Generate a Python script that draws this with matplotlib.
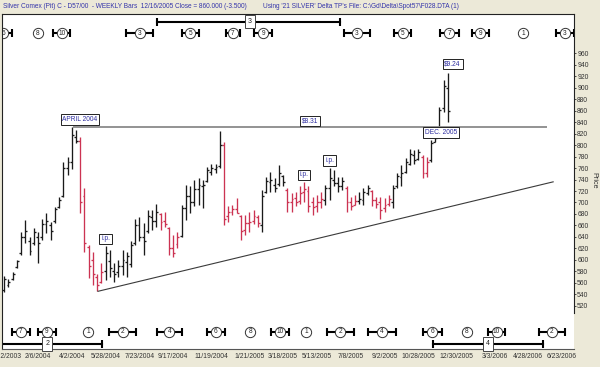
import matplotlib
matplotlib.use("Agg")
import matplotlib.pyplot as plt
import matplotlib.transforms as mtransforms
import numpy as np
import pandas as pd

plt.rcParams['font.family'] = ['Liberation Sans', 'DejaVu Sans']

# ---------------- data (weekly bars, Fridays, from 12/12/2003) ----------------
first_bar = "2003-12-12"
anchor = pd.Timestamp("2004-02-06")   # week 0 of the x scale

highs = [572, 566, 579, 600, 649, 669, 640, 655, 649, 672, 681, 666, 692, 710, 771, 780,
         831, 826, 815, 725, 626, 614, 576, 594, 624, 617, 594, 600, 617, 614, 632, 672,
         675, 664, 687, 687, 698, 681, 684, 658, 643, 649, 696, 730, 728, 739, 742, 739,
         762, 768, 768, 824, 806, 693, 696, 707, 678, 678, 684, 687, 678, 722, 745, 754,
         742, 765, 748, 725, 716, 719, 728, 736, 728, 710, 713, 719, 731, 761, 757, 745,
         745, 728, 710, 713, 719, 725, 731, 722, 710, 710, 707, 713, 731, 751, 765, 777,
         794, 792, 794, 783, 780, 809, 815, 867, 914, 926]
lows = [544, 552, 565, 586, 608, 629, 608, 626, 594, 634, 646, 634, 664, 690, 710, 748,
        758, 803, 681, 614, 568, 556, 545, 559, 565, 570, 562, 570, 573, 570, 588, 626,
        632, 608, 646, 652, 658, 652, 658, 608, 605, 620, 640, 669, 681, 693, 696, 690,
        736, 748, 751, 760, 661, 666, 678, 681, 634, 643, 649, 663, 658, 649, 716, 719,
        719, 728, 728, 684, 684, 693, 698, 701, 684, 678, 684, 690, 696, 704, 728, 719,
        722, 684, 687, 696, 698, 696, 713, 693, 690, 672, 684, 693, 690, 725, 728, 751,
        765, 768, 774, 742, 745, 771, 806, 830, 858, 841]
opens = [548, 556, 567, 588, 612, 640, 632, 630, 640, 640, 662, 660, 668, 692, 712, 760,
         770, 815, 808, 712, 622, 600, 570, 562, 580, 598, 580, 578, 590, 596, 592, 630,
         660, 640, 650, 674, 668, 680, 668, 656, 620, 628, 642, 690, 712, 700, 724, 728,
         738, 754, 758, 764, 800, 676, 684, 688, 676, 652, 664, 668, 674, 660, 718, 736,
         730, 732, 746, 722, 700, 708, 702, 718, 720, 700, 694, 700, 704, 726, 740, 734,
         728, 726, 700, 696, 702, 704, 716, 720, 704, 700, 690, 698, 700, 728, 744, 754,
         768, 782, 776, 780, 752, 774, 806, 832, 864, 900]
closes = [566, 562, 576, 597, 640, 650, 616, 648, 630, 662, 668, 650, 688, 704, 760, 770,
          818, 808, 700, 630, 590, 575, 556, 578, 612, 585, 575, 590, 600, 606, 626, 660,
          640, 632, 676, 668, 684, 666, 662, 620, 612, 640, 690, 712, 700, 724, 730, 730,
          756, 760, 762, 800, 672, 684, 688, 682, 650, 664, 666, 676, 664, 712, 738, 740,
          726, 752, 736, 700, 706, 700, 716, 724, 694, 692, 700, 706, 726, 742, 734, 728,
          738, 700, 694, 702, 706, 718, 726, 704, 698, 686, 696, 706, 726, 746, 752, 770,
          784, 774, 788, 752, 770, 804, 812, 862, 904, 860]

# down-swing bars drawn in red (first, last bar date)
red_spans = [("2004-04-16", "2004-05-21"), ("2004-08-27", "2004-09-24"),
             ("2004-12-10", "2005-02-04"), ("2005-03-25", "2005-05-20"),
             ("2005-07-01", "2005-07-15"), ("2005-08-12", "2005-09-09"),
             ("2005-11-04", "2005-11-11")]

tick_dates = ["12/12/2003", "2/6/2004", "4/2/2004", "5/28/2004", "7/23/2004", "9/17/2004",
              "11/19/2004", "1/21/2005", "3/18/2005", "5/13/2005", "7/8/2005", "9/2/2005",
              "10/28/2005", "12/30/2005", "3/3/2006", "4/28/2006", "6/23/2006"]
price_ticks = list(range(520, 961, 20))

# resistance line and trend line
resist_level = 831
resist_x = [8.2, 120.4]
trend_x = [14.2, 121.9]
trend_y = [545, 736]

# cycle markers: (week, label, half width of bracket in weeks, 0 = none)
top_cycles = [(-8.2, "6", 2.0), (0, "8", 0), (5.6, "10", 2.0), (24.1, "3", 3.2),
              (36.0, "5", 2.0), (46.1, "7", 1.7), (53.3, "9", 2.1), (75.4, "3", 3.1),
              (86.3, "5", 2.0), (97.3, "7", 2.2), (104.6, "9", 2.0), (114.8, "1", 0),
              (124.7, "3", 2.1)]
bottom_cycles = [(-4.1, "7", 2.1), (2.1, "9", 2.1), (11.9, "1", 0), (20.0, "2", 3.2),
                 (31.1, "4", 3.0), (42.1, "6", 2.2), (50.2, "8", 0), (57.3, "10", 2.1),
                 (63.4, "1", 0), (71.5, "2", 3.2), (81.3, "4", 3.3), (93.3, "6", 2.2),
                 (101.4, "8", 0), (108.5, "10", 2.1), (121.6, "2", 3.0)]
# long cycles: (start week, end week, box week, label, row)
long_cycles = [(28.1, 71.5, 50.2, "3", "top"), (-10, 15.1, 2.2, "2", "bottom"),
               (93.4, 119.6, 106.5, "4", "bottom")]

notes = [(9.9, 845, "APRIL 2004"), (64.3, 842, "$8.31"), (98.1, 942, "$9.24"),
         (95.4, 822, "DEC. 2005")]
ip_dates = ["2004-05-28", "2005-04-22", "2005-06-03"]

# ---------------- figure ----------------
BG = "#ECE9D8"
NOTE_COL = "#2E2EA0"
fig = plt.figure(figsize=(6, 3.67), dpi=100, facecolor=BG)
ax = fig.add_axes([2 / 600, 18 / 367, 572 / 600, 335 / 367])
ax.set_facecolor("white")
ax.set_xlim(-8.52, 126.83)
ax.set_ylim(444.3, 1028.9)

dates = pd.date_range(first_bar, periods=len(highs), freq="7D")
x = np.array((dates - anchor).days / 7.0)
red = np.zeros(len(dates), dtype=bool)
for a, b in red_spans:
    red |= (dates >= pd.Timestamp(a)) & (dates <= pd.Timestamp(b))
cols = np.where(red, "#CC3352", "#1a1a1a")

ax.vlines(x, lows, highs, colors=cols, lw=0.95)
ax.hlines(opens, x - 0.45, x, colors=cols, lw=0.95)
ax.hlines(closes, x, x + 0.45, colors=cols, lw=0.95)

ax.hlines(resist_level, resist_x[0], resist_x[1], color="#8a8a8a", lw=1.3)
ax.plot(trend_x, trend_y, color="#3a3a3a", lw=0.8)

# notes
box = dict(boxstyle="square,pad=0.25", fc="white", ec="#222222", lw=0.7)
for nx, ny, txt in notes:
    ax.text(nx, ny, txt, ha="center", va="center", fontsize=4.8, color=NOTE_COL, bbox=box)
hi = pd.Series(highs, index=dates)
for d in ip_dates:
    t = pd.Timestamp(d)
    ax.annotate("i.p.", xy=((t - anchor).days / 7.0, hi[t]), xytext=(0, 2.6),
                textcoords="offset points", ha="center", va="bottom", fontsize=4.8,
                color=NOTE_COL, bbox=box)

# cycles
trans = mtransforms.blended_transform_factory(ax.transData, ax.transAxes)
row_y = {"top": 0.943, "bottom": 0.052}
long_y = {"top": 0.977, "bottom": 0.015}


def draw_cycle(xc, label, hw, yf):
    if hw:
        ax.plot([xc - hw, xc + hw], [yf, yf], color="black", lw=1.5, transform=trans,
                solid_capstyle="butt")
        ax.plot([xc - hw, xc + hw], [yf, yf], ls="none", marker="|", ms=5.5, mew=1.5,
                color="black", transform=trans)
    ax.plot(xc, yf, "o", ms=7.4, mfc="white", mec="#333333", mew=0.7, transform=trans)
    ax.text(xc, yf, label, ha="center", va="center", fontsize=4.7, color="#222222",
            transform=trans)


for xc, lab, hw in top_cycles:
    draw_cycle(xc, lab, hw, row_y["top"])
for xc, lab, hw in bottom_cycles:
    draw_cycle(xc, lab, hw, row_y["bottom"])
for x0, x1, xb, lab, row in long_cycles:
    yf = long_y[row]
    ax.plot([x0, x1], [yf, yf], color="black", lw=1.5, transform=trans)
    ax.plot([x0, x1], [yf, yf], ls="none", marker="|", ms=5.5, mew=1.5, color="black",
            transform=trans)
    ax.text(xb, yf, lab, ha="center", va="center", fontsize=5, color="#222222",
            transform=trans,
            bbox=dict(boxstyle="square,pad=0.45", fc="white", ec="#444444", lw=0.7))

# axes
tick_pos = [(pd.Timestamp(pd.to_datetime(d, format="%m/%d/%Y")) - anchor).days / 7.0
            for d in tick_dates]
ax.set_xticks(tick_pos)
ax.set_xticklabels(tick_dates)
ax.tick_params(axis="x", length=0, pad=2.6, labelsize=4.9, labelcolor="#333333")

ax.yaxis.tick_right()
ax.set_yticks(price_ticks)
ax.tick_params(axis="y", length=1.5, width=0.6, pad=0.8, labelsize=4.9,
               labelcolor="#333333", color="#333333")
ax.yaxis.set_label_position("right")
ax.set_ylabel("Price", rotation=270, va="center", fontsize=5.2, color="#333333")
ax.yaxis.set_label_coords(1.035, 0.504)

for side in ["left", "top", "right", "bottom"]:
    ax.spines[side].set_linewidth(0.8)
    ax.spines[side].set_color("#222222")
ax.spines["right"].set_bounds(507, 1028.9)
ax.spines["bottom"].set_color("#555555")

# header
hdr = dict(fontsize=4.7, color="#3333AA", va="center")
fig.text(3 / 600, 1 - 7 / 367,
         "Silver Comex (Pit) C - D57/00  - WEEKLY Bars  12/16/2005 Close = 860.000 (-3.500)", **hdr)
fig.text(263 / 600, 1 - 7 / 367, "Using '21 SILVER' Delta TP's", **hdr)
fig.text(349 / 600, 1 - 7 / 367, "File: C:\\Gd\\Delta\\Spot57\\F028.DTA (1)", **hdr)

fig.savefig("out.png", dpi=100, facecolor=BG)
